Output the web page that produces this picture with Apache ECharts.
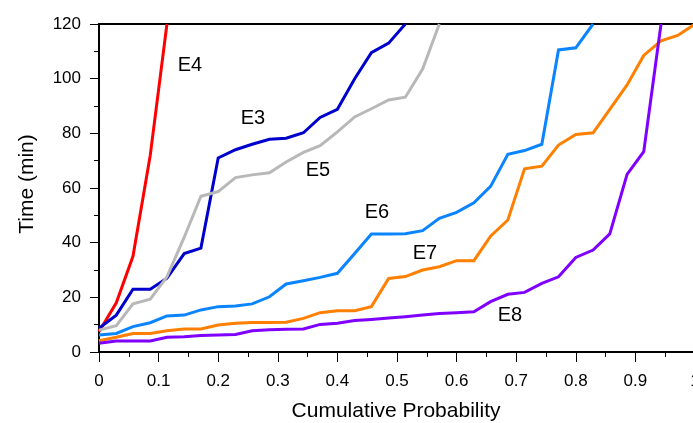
<!DOCTYPE html>
<html>
<head>
<meta charset="utf-8">
<script src="https://cdn.jsdelivr.net/npm/echarts@6/dist/echarts.min.js"></script>
<style>
html,body{margin:0;padding:0;background:#fff;}
#chart{width:693px;height:423px;}
</style>
</head>
<body>
<div id="chart"></div>
<script>
// Cumulative probability positions
var prob = [0,0.029,0.057,0.086,0.114,0.143,0.171,0.2,0.229,0.257,0.286,0.314,0.343,0.371,0.4,0.429,0.457,0.486,0.514,0.543,0.571,0.6,0.629,0.657,0.686,0.714,0.743,0.771,0.8,0.829,0.857,0.886,0.914,0.943,0.971,1];

var seriesNames = ['E4','E3','E5','E6','E7','E8'];
var E4 = [7.4,18,35,72,120];
var E3 = [8.7,13.5,23,23,27,36,38,71,74,76,77.8,78.2,80.2,85.8,88.8,100,109.5,113,120];
var E5 = [8,9.6,17.6,19.3,27.5,42,57,58.7,63.8,64.8,65.6,69.5,73,75.5,80.5,86,89,92.2,93.2,103.5,120];
var E6 = [6.2,6.8,9.3,10.7,13.2,13.5,15.4,16.6,16.8,17.6,20.2,24.9,26.1,27.3,28.8,36,43.2,43.2,43.3,44.4,48.9,51.1,54.6,60.6,72.3,73.7,76,110.5,111.3,120];
var E7 = [4.1,5.4,6.8,6.8,7.8,8.4,8.4,9.9,10.5,10.8,10.8,10.9,12.3,14.4,15.1,15.1,16.6,26.9,27.6,30,31.2,33.4,33.4,42.4,48.3,67,68,75.7,79.6,80.2,88.8,97.7,108.5,113.8,115.8,120];
var E8 = [3.2,4,4,4,5.4,5.6,6,6.2,6.4,7.8,8.1,8.3,8.4,10.1,10.5,11.5,11.9,12.4,12.9,13.5,14.1,14.4,14.7,18.4,21.1,21.8,25.1,27.5,34.6,37.3,43.2,65,73.3,120];
var seriesValues = [E4,E3,E5,E6,E7,E8];
var colors = ['#ff0000','#0000cc','#b8b8b8','#0a84ff','#ff7f00','#7f00ff'];

var xTickLabels = ['0','0.1','0.2','0.3','0.4','0.5','0.6','0.7','0.8','0.9','1'];
var yTickLabels = ['0','20','40','60','80','100','120'];

var FONT = '"Liberation Sans", Arial, Helvetica, sans-serif';

function pairs(vals){
  var out = [];
  for (var i = 0; i < vals.length; i++) out.push([prob[i], vals[i]]);
  return out;
}

var series = seriesNames.map(function(n, k){
  return {
    name: n, type: 'line', data: pairs(seriesValues[k]),
    showSymbol: false, symbol: 'none', clip: true,
    lineStyle: {color: colors[k], width: 3, join: 'miter'},
    itemStyle: {color: colors[k]},
    animation: false, z: 3 + k
  };
});

function label(t, x, y){
  return {type:'text', x: x, y: y, z: 100, style:{text: t, font:'20px '+FONT, fill:'#000', textAlign:'center', textVerticalAlign:'middle'}};
}

var chart = echarts.init(document.getElementById('chart'), null, {renderer: 'canvas'});
chart.setOption({
  animation: false,
  backgroundColor: '#ffffff',
  grid: {left: 99, top: 24, right: -2, bottom: 71, containLabel: false, outerBoundsMode: 'none'},
  xAxis: [{
    type: 'value', min: 0, max: 1, interval: 0.1, position: 'bottom',
    axisLine: {show: true, onZero: false, lineStyle: {color: '#000', width: 2}},
    axisTick: {show: true, inside: false, length: 10, lineStyle: {color: '#000', width: 1}},
    minorTick: {show: true, splitNumber: 2, length: 5, lineStyle: {color: '#000', width: 1}},
    splitLine: {show: false},
    axisLabel: {
      margin: 21, fontFamily: FONT, fontSize: 17, color: '#000',
      formatter: function(v){ return xTickLabels[Math.round(v*10)]; }
    }
  }, {
    type: 'value', min: 0, max: 1, position: 'top',
    axisLine: {show: true, onZero: false, lineStyle: {color: '#000', width: 2}},
    axisTick: {show: false}, axisLabel: {show: false}, splitLine: {show: false}
  }],
  yAxis: {
    type: 'value', min: 0, max: 120, interval: 20,
    axisLine: {show: true, onZero: false, lineStyle: {color: '#000', width: 2}},
    axisTick: {show: true, inside: false, length: 9, lineStyle: {color: '#000', width: 1}},
    minorTick: {show: true, splitNumber: 2, length: 5, lineStyle: {color: '#000', width: 1}},
    splitLine: {show: false},
    axisLabel: {
      margin: 18, fontFamily: FONT, fontSize: 17, color: '#000',
      formatter: function(v){ return yTickLabels[Math.round(v/20)]; }
    }
  },
  series: series,
  graphic: [
    {type:'text', x: 27, y: 184, rotation: Math.PI/2, style:{text:'Time (min)', font:'21px '+FONT, fill:'#000', textAlign:'center', textVerticalAlign:'middle'}},
    {type:'text', x: 396, y: 411, style:{text:'Cumulative Probability', font:'21px '+FONT, fill:'#000', textAlign:'center', textVerticalAlign:'middle'}},
    label('E4', 190, 65),
    label('E3', 253, 118),
    label('E5', 318, 170),
    label('E6', 377, 212),
    label('E7', 425, 253),
    label('E8', 510, 315)
  ]
});
</script>
</body>
</html>
